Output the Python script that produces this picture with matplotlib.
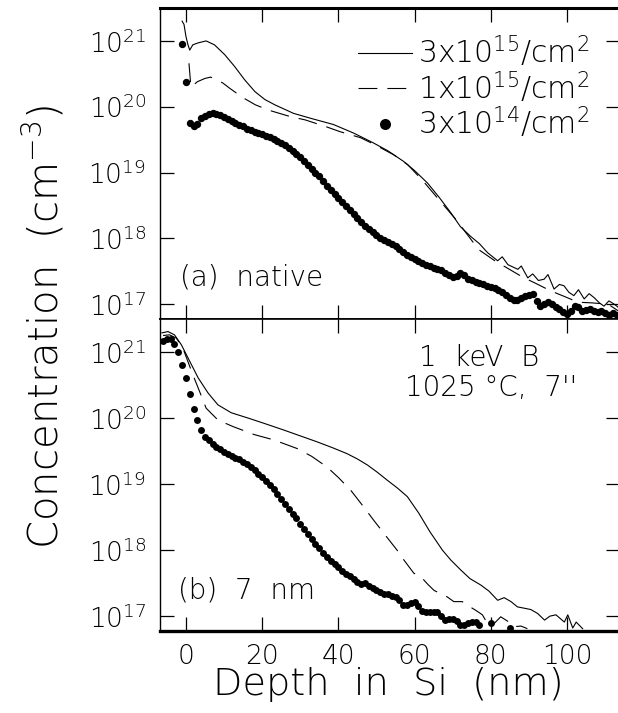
import numpy as np
import matplotlib
matplotlib.use("Agg")
import matplotlib.pyplot as plt
from matplotlib.ticker import FixedLocator, FuncFormatter

plt.rcParams['font.family'] = ['DejaVu Sans']
plt.rcParams['font.weight'] = 200
plt.rcParams['mathtext.fontset'] = 'custom'
plt.rcParams['mathtext.rm'] = 'DejaVu Sans:weight=200'
plt.rcParams['mathtext.it'] = 'DejaVu Sans:weight=200'
plt.rcParams['mathtext.bf'] = 'DejaVu Sans:weight=200'

# ---- data (depth in nm, log10 of concentration in cm^-3) ----
# (a) native oxide
a_solid_depth = [-1.0, -0.5, 0.0, 0.5, 1.0, 1.8, 3.2, 5.3, 7.5, 10.2, 12.8, 15.4, 18.1,
                 20.7, 23.3, 28.2, 33.0, 38.7, 44.0, 49.2, 53.0, 57.1, 60.0, 63.4, 66.5,
                 69.5, 72.0, 74.7, 77.0, 79.2, 80.5, 81.8, 83.0, 84.5, 87.1, 88.0, 89.7,
                 91.0, 92.5, 94.0, 95.0, 96.6, 98.0, 99.2, 100.5, 101.8, 103.0, 104.5,
                 105.8, 107.1, 108.5, 109.7, 111.0, 112.4, 113.5]
a_solid_log = [21.30, 21.25, 21.07, 20.95, 20.86, 20.94, 20.97, 21.00, 20.94, 20.79, 20.61,
               20.41, 20.23, 20.11, 20.03, 19.90, 19.82, 19.73, 19.60, 19.45, 19.33, 19.17,
               19.03, 18.84, 18.62, 18.39, 18.18, 18.03, 17.92, 17.78, 17.72, 17.66, 17.72,
               17.60, 17.53, 17.58, 17.40, 17.46, 17.36, 17.38, 17.45, 17.23, 17.30, 17.28,
               17.18, 17.13, 17.22, 17.08, 17.16, 17.10, 17.02, 16.97, 17.05, 17.00, 16.95]

a_dash_depth = [0.8, 1.1, 1.3, 1.8, 3.0, 5.0, 6.5, 8.0, 9.7, 11.5, 13.2, 15.5, 18.2, 21.6,
                27.4, 31.3, 36.6, 40.5, 45.8, 49.7, 54.5, 58.2, 62.4, 66.5, 70.8, 74.2,
                76.8, 81.3, 84.0, 88.4, 91.3, 95.8, 99.2, 102.9, 106.5, 110.8, 113.4]
a_dash_log = [20.66, 20.45, 20.30, 20.32, 20.38, 20.43, 20.45, 20.41, 20.36, 20.28, 20.21,
              20.12, 20.03, 19.95, 19.85, 19.80, 19.70, 19.62, 19.53, 19.42, 19.27, 19.12,
              18.86, 18.58, 18.29, 18.03, 17.83, 17.65, 17.56, 17.41, 17.33, 17.20, 17.12,
              17.03, 17.02, 17.00, 16.90]

a_dot_depth = list(range(-1, 114))
a_dot_log = [20.95, 20.37, 19.75, 19.71, 19.74, 19.83, 19.86, 19.89, 19.90, 19.89,
             19.87, 19.85, 19.82, 19.79, 19.76, 19.73, 19.70, 19.66, 19.64, 19.62,
             19.60, 19.58, 19.56, 19.54, 19.51, 19.48, 19.45, 19.42, 19.38, 19.33,
             19.28, 19.23, 19.18, 19.12, 19.06, 19.00, 18.94, 18.87, 18.80, 18.73,
             18.67, 18.61, 18.55, 18.49, 18.43, 18.37, 18.31, 18.25, 18.19, 18.14,
             18.09, 18.05, 18.01, 17.98, 17.95, 17.91, 17.88, 17.84, 17.80, 17.75,
             17.72, 17.69, 17.65, 17.63, 17.60, 17.58, 17.55, 17.53, 17.52, 17.48,
             17.44, 17.41, 17.43, 17.47, 17.44, 17.39, 17.36, 17.34, 17.32, 17.30,
             17.28, 17.26, 17.24, 17.21, 17.18, 17.14, 17.10, 17.07, 17.06, 17.09,
             17.12, 17.14, 17.15, 17.05, 16.97, 17.01, 17.03, 17.00, 16.95, 16.92,
             16.88, 16.85, 16.90, 16.97, 16.95, 16.90, 16.91, 16.93, 16.90, 16.88,
             16.90, 16.87, 16.84, 16.86, 16.83]

# (b) 7 nm oxide
b_solid_depth = [-6.3, -4.7, -3.0, -1.2, 1.0, 3.2, 5.8, 8.4, 11.9, 16.3, 20.5, 25.6, 30.0,
                 34.4, 38.5, 42.3, 45.0, 47.6, 50.2, 52.8, 55.5, 58.1, 61.1, 64.0, 67.3,
                 69.5, 72.1, 74.5, 77.4, 79.5, 81.8, 83.5, 85.3, 87.0, 88.8, 90.5, 92.3,
                 94.1, 95.5, 97.1, 99.3, 100.2, 101.5, 102.4, 104.1]
b_solid_log = [21.29, 21.31, 21.26, 21.11, 20.86, 20.61, 20.38, 20.20, 20.08, 20.00, 19.92,
               19.82, 19.73, 19.64, 19.55, 19.46, 19.38, 19.29, 19.18, 19.06, 18.94, 18.81,
               18.56, 18.28, 18.00, 17.85, 17.70, 17.57, 17.47, 17.38, 17.24, 17.28, 17.22,
               17.14, 17.12, 17.10, 17.04, 16.94, 17.00, 17.02, 16.91, 17.02, 16.82, 16.91,
               16.81]

b_dash_depth = [-6.0, -4.3, -2.5, -0.8, 0.5, 1.8, 3.6, 5.3, 8.4, 12.4, 17.9, 23.0, 29.1,
                33.0, 37.0, 40.0, 43.2, 46.3, 49.3, 52.4, 55.4, 57.2, 59.8, 61.6, 63.5,
                65.1, 68.6, 70.3, 72.5, 74.0, 76.0, 77.8, 79.1, 80.9, 82.6, 84.8, 86.2,
                87.9, 89.6]
b_dash_log = [21.25, 21.26, 21.21, 21.06, 20.86, 20.66, 20.40, 20.15, 19.97, 19.87, 19.75,
              19.67, 19.54, 19.42, 19.26, 19.10, 18.91, 18.68, 18.45, 18.22, 18.00, 17.85,
              17.65, 17.60, 17.48, 17.39, 17.29, 17.22, 17.22, 17.16, 17.09, 17.02, 16.89,
              16.89, 16.99, 16.91, 16.84, 16.85, 16.81]

b_dot_depth = list(range(-6, 86))
b_dot_log = [21.17, 21.20, 21.19, 21.12, 21.00, 20.80, 20.61, 20.37, 20.14, 19.97,
             19.82, 19.72, 19.66, 19.61, 19.56, 19.53, 19.48, 19.46, 19.43, 19.40,
             19.38, 19.34, 19.30, 19.26, 19.21, 19.16, 19.11, 19.05, 18.99, 18.92,
             18.85, 18.77, 18.70, 18.63, 18.55, 18.48, 18.40, 18.32, 18.25, 18.17,
             18.10, 18.03, 17.96, 17.90, 17.84, 17.79, 17.74, 17.69, 17.64, 17.61,
             17.56, 17.52, 17.49, 17.50, 17.45, 17.42, 17.39, 17.37, 17.34, 17.33,
             17.30, 17.29, 17.24, 17.17, 17.17, 17.20, 17.22, 17.15, 17.08, 17.06,
             17.07, 17.06, 17.07, 17.00, 16.94, 16.96, 16.96, 16.92, 16.87, 16.86,
             16.90, 16.91, 16.91, 16.87, np.nan, np.nan, 16.89, np.nan, np.nan, np.nan,
             np.nan, 16.82]

labels = [r'3x10$^{15}$/cm$^{2}$', r'1x10$^{15}$/cm$^{2}$', r'3x10$^{14}$/cm$^{2}$']
decades = [1e17, 1e18, 1e19, 1e20, 1e21]
depth_ticks = [0, 20, 40, 60, 80, 100]

fig = plt.figure(figsize=(6.18, 7.13), dpi=100)
ax_a = fig.add_axes([160 / 618, 1 - 319 / 713, 460 / 618, 311 / 713])
ax_b = fig.add_axes([160 / 618, 1 - 631 / 713, 460 / 618, 312 / 713])


def style_axis(ax, show_xlabels):
    ax.set_yscale('log')
    ax.set_xlim(-6.8, 113.9)
    ax.set_ylim(10 ** 16.775, 10 ** 21.5)
    ax.yaxis.set_major_locator(FixedLocator(decades))
    ax.yaxis.set_minor_locator(FixedLocator([]))
    ax.yaxis.set_major_formatter(
        FuncFormatter(lambda v, p: r'10$^{%d}$' % round(np.log10(v))))
    ax.set_xticks(depth_ticks)
    ax.tick_params(which='major', direction='in', length=10, width=0.9,
                   top=True, right=True, labelsize=19, pad=9, color='black')
    ax.tick_params(axis='y', pad=10)
    if not show_xlabels:
        ax.tick_params(axis='x', labelbottom=False)
    ax.spines['left'].set_linewidth(1.0)
    ax.spines['right'].set_linewidth(1.0)


style_axis(ax_a, False)
style_axis(ax_b, True)

ax_a.spines['top'].set_linewidth(2.2)
ax_a.spines['bottom'].set_linewidth(1.2)
ax_b.spines['top'].set_linewidth(1.2)
ax_b.spines['bottom'].set_linewidth(2.4)

to_conc = lambda v: 10 ** np.array(v, dtype=float)

h1, = ax_a.plot(a_solid_depth, to_conc(a_solid_log), '-', color='black', lw=0.8)
h2, = ax_a.plot(a_dash_depth, to_conc(a_dash_log), color='black', lw=0.8,
                dashes=(17, 9))
h3, = ax_a.plot(a_dot_depth, to_conc(a_dot_log), 'o', color='black', ms=5.3, mew=0)

ax_b.plot(b_solid_depth, to_conc(b_solid_log), '-', color='black', lw=0.8)
ax_b.plot(b_dash_depth, to_conc(b_dash_log), color='black', lw=0.8, dashes=(17, 9))
ax_b.plot(b_dot_depth, to_conc(b_dot_log), 'o', color='black', ms=5.0, mew=0)

ax_a.legend([h1, h2, h3], labels, loc='upper right', bbox_to_anchor=(0.96, 0.955),
            frameon=False, fontsize=21.5, handlelength=1.8, handletextpad=0.2,
            labelspacing=0.0, borderaxespad=0, markerscale=1.5, numpoints=1)

ax_a.text(0.043, 0.132, '(a)  native', transform=ax_a.transAxes, fontsize=20,
          ha='left', va='center')
ax_b.text(0.039, 0.131, '(b)  7  nm', transform=ax_b.transAxes, fontsize=20,
          ha='left', va='center')
ax_b.text(0.693, 0.875, '1  keV  B', transform=ax_b.transAxes, fontsize=20,
          ha='center', va='center')
ax_b.text(0.72, 0.779, '1025 \u00b0C,  7\'\'', transform=ax_b.transAxes, fontsize=20,
          ha='center', va='center')

fig.text(43 / 618, 1 - 327 / 713, r'Concentration  (cm$^{-3}$)', rotation=90,
         fontsize=29, ha='center', va='center')
fig.text(388 / 618, 1 - 684 / 713, 'Depth  in  Si  (nm)', fontsize=27.5,
         ha='center', va='center')

fig.savefig('out.png', dpi=100)
